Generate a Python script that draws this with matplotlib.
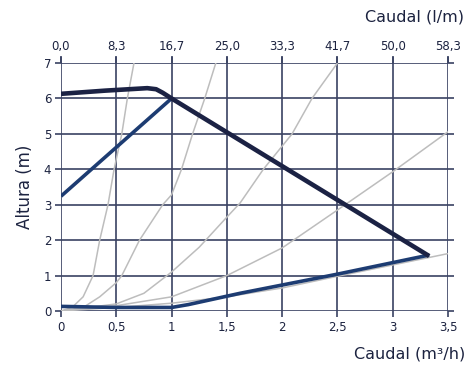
import numpy as np
import matplotlib.pyplot as plt

# Caudal (m3/h) grid and the matching l/m labels on top
x_ticks = [0, 0.5, 1, 1.5, 2, 2.5, 3, 3.5]
x_labels = ['0', '0,5', '1', '1,5', '2', '2,5', '3', '3,5']
top_labels = ['0,0', '8,3', '16,7', '25,0', '33,3', '41,7', '50,0', '58,3']
y_ticks = [0, 1, 2, 3, 4, 5, 6, 7]

# pump curves
max_x = [0, 0.4, 0.78, 0.86, 0.92, 1.0, 3.33]
max_y = [6.13, 6.22, 6.29, 6.26, 6.16, 6.0, 1.55]
up_x = [0, 1.0]
up_y = [3.24, 6.0]
min_x = [0, 0.5, 1.0, 1.15, 1.62, 2.5, 3.33]
min_y = [0.13, 0.1, 0.1, 0.18, 0.5, 1.04, 1.58]

# system curves (gray)
sys1_x = [0, 0.1, 0.2, 0.26, 0.29, 0.35, 0.425, 0.48, 0.55, 0.6, 0.66]
sys1_y = [0, 0.1, 0.4, 0.8, 1, 2, 3, 4, 5, 6, 7]
sys2_x = [0, 0.2, 0.35, 0.5, 0.55, 0.71, 0.92, 1.0, 1.09, 1.19, 1.30, 1.40]
sys2_y = [0, 0.1, 0.4, 0.8, 1, 2, 3, 3.28, 4, 5, 6, 7]
sys3_x = [0, 0.5, 0.75, 1.0, 1.25, 1.5, 1.62, 1.83, 2.09, 2.27, 2.5]
sys3_y = [0, 0.2, 0.5, 1.1, 1.8, 2.65, 3.05, 4, 5, 6, 7]
sys4_x = [0, 0.5, 1.0, 1.5, 2.0, 2.5, 3.0, 3.5]
sys4_y = [0, 0.15, 0.4, 1.0, 1.78, 2.85, 3.93, 5.06]
sys5_x = [0, 0.5, 1.0, 1.5, 2.0, 2.5, 3.0, 3.5]
sys5_y = [0, 0.1, 0.22, 0.4, 0.65, 0.98, 1.3, 1.62]

txt = '#1c2340'
grid_c = '#3a4262'

fig = plt.figure(figsize=(4.72, 3.65), dpi=100)
ax = fig.add_axes([61/472, 1-311/365, 387/472, 248/365])

for sx, sy in [(sys1_x, sys1_y), (sys2_x, sys2_y), (sys3_x, sys3_y),
               (sys4_x, sys4_y), (sys5_x, sys5_y)]:
    ax.plot(sx, sy, color='#bdbdbd', lw=1.1, zorder=2)

ax.plot(min_x, min_y, color='#1d3c72', lw=2.6, zorder=3, solid_capstyle='butt')
ax.plot(up_x, up_y, color='#1d3c72', lw=2.6, zorder=3, solid_capstyle='butt')
ax.plot(max_x, max_y, color='#1b2244', lw=3.3, zorder=4, solid_capstyle='butt',
        solid_joinstyle='round')

ax.set_xlim(0, 3.5)
ax.set_ylim(0, 7)
ax.set_xticks(x_ticks)
ax.set_xticklabels(x_labels)
ax.set_yticks(y_ticks)
ax.grid(True, color=grid_c, lw=1.2, zorder=1)
for s in ax.spines.values():
    s.set_visible(False)
ax.tick_params(axis='both', which='both', direction='out', length=4, width=1.2,
               color=grid_c, labelcolor=txt, labelsize=8.5, pad=3,
               top=True, right=True)

top = ax.secondary_xaxis('top')
top.set_xticks(x_ticks)
top.set_xticklabels(top_labels)
top.tick_params(length=5, width=1.2, color=grid_c, labelcolor=txt, labelsize=8.5, pad=2)
for s in top.spines.values():
    s.set_visible(False)

ax.set_ylabel('Altura (m)', color=txt, fontsize=12, labelpad=7)
fig.text(0.985, 0.01, 'Caudal (m³/h)', ha='right', va='bottom', color=txt, fontsize=11.5)
fig.text(0.982, 0.975, 'Caudal (l/m)', ha='right', va='top', color=txt, fontsize=11.5)

fig.savefig('out.png', dpi=100)
